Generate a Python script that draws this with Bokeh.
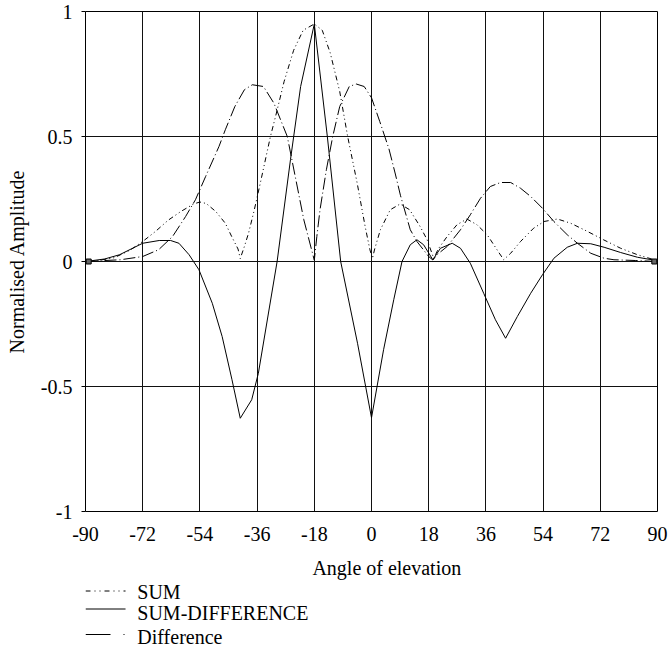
from bokeh.plotting import figure
from bokeh.models import Range1d, FixedTicker
from bokeh.layouts import column
from bokeh.embed import file_html
from bokeh.resources import INLINE
from bokeh.core.properties import value

FONT = "Liberation Serif"

# ---------------- data ----------------
x_ticks = [-90, -72, -54, -36, -18, 0, 18, 36, 54, 72, 90]
x_tick_labels = ["-90", "-72", "-54", "-36", "-18", "0", "18", "36", "54", "72", "90"]
y_ticks = [-1, -0.5, 0, 0.5, 1]
y_tick_labels = ["-1", "-0.5", "0", "0.5", "1"]

series_names = ["SUM", "SUM-DIFFERENCE", "Difference"]
x_title = "Angle of elevation"
y_title = "Normalised Amplitude"

sum_angle = [-90, -86, -81, -76, -72, -68, -64, -60, -56, -54, -52, -49, -46, -44, -42,
             -41.3, -40, -38.7, -37, -35, -31.8, -30, -27.5, -24.5, -21.5, -18, -15.5,
             -13, -10, -7.5, -4.5, -2, -0.5, 0.3, 1, 2.8, 5.9, 9, 12, 15.3, 17.5, 19.6,
             21, 23.8, 26.9, 30, 33.2, 36.4, 39.5, 41.6, 43.8, 46.9, 51, 54.3, 58.5,
             62.7, 68, 73, 78.4, 83.7, 90]
sum_value = [0.0, 0.004, 0.015, 0.045, 0.08, 0.12, 0.165, 0.2, 0.23, 0.238, 0.232, 0.2,
             0.153, 0.1, 0.05, 0.012, 0.06, 0.113, 0.2, 0.313, 0.5, 0.59, 0.72, 0.845,
             0.925, 0.95, 0.925, 0.835, 0.68, 0.5, 0.313, 0.14, 0.047, 0.012, 0.05, 0.127,
             0.207, 0.23, 0.207, 0.14, 0.087, 0.012, 0.05, 0.1, 0.147, 0.17, 0.147, 0.107,
             0.047, 0.007, 0.033, 0.08, 0.133, 0.16, 0.17, 0.153, 0.12, 0.087, 0.053,
             0.027, 0.003]

diff_angle = [-90, -79, -72, -67, -62.6, -58.5, -55.4, -52.2, -48, -46, -43, -40, -37.5,
              -34, -30.7, -26.5, -24, -21.3, -18, -17.2, -16.2, -14.2, -12.2, -10, -7,
              -4.8, -2.3, 0, 2.6, 5.5, 7.5, 9.1, 12.2, 14.3, 18, 19.3, 20.6, 23.8, 28,
              31.1, 34.3, 37.4, 40.6, 43.8, 46.9, 50.1, 53.8, 57.4, 61.6, 64.8, 69, 73.2,
              76.3, 83, 90]
diff_value = [0.0, 0.007, 0.02, 0.047, 0.1, 0.18, 0.247, 0.34, 0.46, 0.527, 0.62, 0.687,
              0.707, 0.70, 0.633, 0.5, 0.34, 0.167, 0.005, 0.1, 0.207, 0.367, 0.5, 0.62,
              0.70, 0.71, 0.70, 0.655, 0.56, 0.45, 0.35, 0.265, 0.127, 0.08, 0.02, 0.006,
              0.027, 0.06, 0.127, 0.187, 0.253, 0.3, 0.316, 0.316, 0.293, 0.26, 0.213,
              0.16, 0.107, 0.073, 0.033, 0.013, 0.007, 0.004, 0.0]

sd_angle = [-90, -84, -79.3, -72, -66.8, -63.2, -60.6, -57.4, -54.3, -50.1, -47, -43.9,
            -41.3, -37.7, -35.6, -29.7, -25.5, -22.3, -18, -13.9, -9.7, -4.4, 0, 3.8, 7,
            9.6, 12.2, 14.3, 16.4, 19.3, 21.7, 25.4, 28, 31.1, 35.3, 39, 42.2, 45.9,
            50.1, 53.8, 57.4, 61.6, 64.8, 69, 73.2, 78.4, 83.7, 90]
sd_value = [0.0, 0.01, 0.027, 0.073, 0.084, 0.084, 0.073, 0.027, -0.033, -0.167, -0.3,
            -0.473, -0.627, -0.553, -0.447, 0.0, 0.407, 0.70, 0.95, 0.5, 0.0, -0.327,
            -0.625, -0.353, -0.153, 0.0, 0.067, 0.087, 0.067, 0.007, 0.053, 0.073, 0.053,
            -0.007, -0.127, -0.233, -0.307, -0.22, -0.127, -0.053, 0.013, 0.057, 0.073,
            0.071, 0.057, 0.036, 0.017, 0.003]

end_marker_angle = [-89, 89]
end_marker_value = [0.0, 0.0]

SUM_DASH = "5 3 1 3 1 3"
DIFF_DASH = "12 3 1 3"
LEG_DASHES = ["5 4 1 4 1 4", "solid", "25 13 1 10"]

BORDER_L, BORDER_R = 85, 12

# ---------------- main plot ----------------
p = figure(width=669, height=548, x_range=Range1d(-90, 90), y_range=Range1d(-1, 1),
           output_backend="svg", toolbar_location=None,
           min_border_left=BORDER_L, min_border_right=BORDER_R,
           min_border_top=11, min_border_bottom=37)
p.background_fill_color = "white"
p.border_fill_color = "white"
p.outline_line_color = "black"
p.outline_line_width = 1
p.outline_line_alpha = 1

p.xaxis.ticker = FixedTicker(ticks=x_ticks)
p.xaxis.major_label_overrides = {v: s for v, s in zip(x_ticks, x_tick_labels)}
p.yaxis.ticker = FixedTicker(ticks=y_ticks)
p.yaxis.major_label_overrides = {v: s for v, s in zip(y_ticks, y_tick_labels)}
p.xgrid.ticker = FixedTicker(ticks=x_ticks)
p.ygrid.ticker = FixedTicker(ticks=y_ticks)
for g in (p.xgrid, p.ygrid):
    g.grid_line_color = "#111111"
    g.grid_line_alpha = 1
    g.grid_line_width = 1

for ax in (p.xaxis, p.yaxis):
    ax.axis_line_color = None
    ax.minor_tick_line_color = None
    ax.major_label_text_font = FONT
    ax.major_label_text_font_size = "20px"
    ax.major_label_text_color = "black"
    ax.axis_label_text_font = FONT
    ax.axis_label_text_font_size = "20px"
    ax.axis_label_text_font_style = "normal"
    ax.axis_label_text_color = "black"

p.xaxis.major_tick_line_color = None
p.xaxis.major_label_standoff = 9
p.yaxis.major_tick_line_color = "black"
p.yaxis.major_tick_out = 4
p.yaxis.major_tick_in = 0
p.yaxis.major_label_standoff = 9
p.yaxis.axis_label = y_title
p.yaxis.axis_label_standoff = 10

p.line(sum_angle, sum_value, line_color="black", line_width=1, line_dash=SUM_DASH)
p.line(sd_angle, sd_value, line_color="black", line_width=1)
p.line(diff_angle, diff_value, line_color="black", line_width=1, line_dash=DIFF_DASH)
p.scatter(end_marker_angle, end_marker_value, marker="square", size=5,
          fill_color="#666666", line_color="black")

# ---------------- x title + legend strip (same x scale as the plot) ----------------
LEG_H = 99
leg = figure(width=669, height=LEG_H, x_range=Range1d(-90, 90), y_range=Range1d(LEG_H, 0),
             output_backend="svg", toolbar_location=None,
             x_axis_location=None, y_axis_location=None,
             min_border_left=BORDER_L, min_border_right=BORDER_R,
             min_border_top=0, min_border_bottom=0)
leg.grid.visible = False
leg.outline_line_color = None
leg.background_fill_color = "white"
leg.border_fill_color = "white"

leg.text(x=[-18.6], y=[19], text=[x_title], text_font=value(FONT),
         text_font_size="20px", text_color="black", text_align="left", text_baseline="middle")

leg_text_y = [43.5, 64.5, 88]
leg_line_y = [42.5, 60.5, 86]
for name, ty, ly, d in zip(series_names, leg_text_y, leg_line_y, LEG_DASHES):
    leg.line([-90, -77.4], [ly, ly], line_color="black", line_width=1, line_dash=d)
    leg.text(x=[-73.7], y=[ty], text=[name], text_font=value(FONT), text_font_size="20px",
             text_color="black", text_align="left", text_baseline="middle")

layout = column(p, leg, spacing=0)
open("out.html", "w").write(file_html(layout, INLINE))
